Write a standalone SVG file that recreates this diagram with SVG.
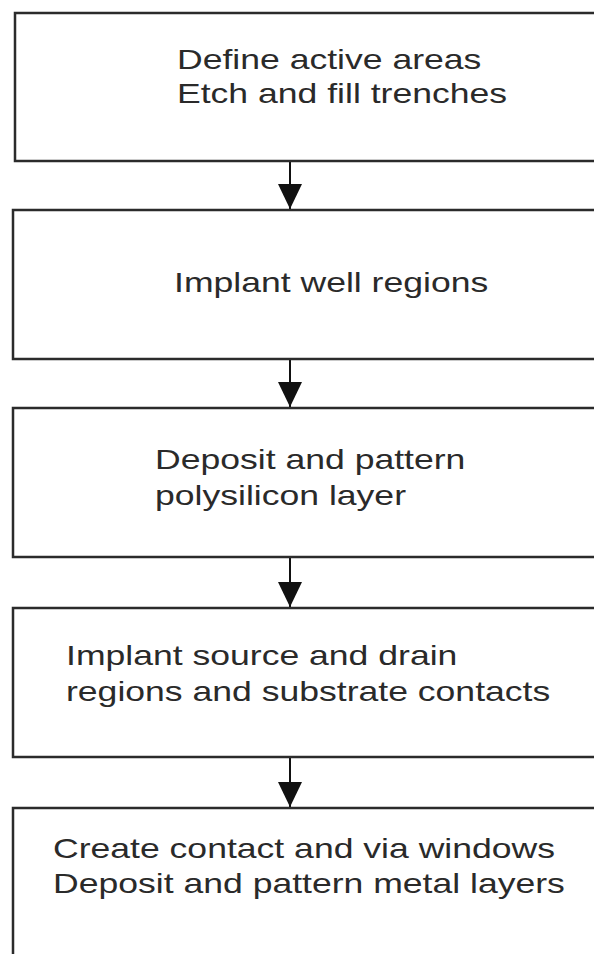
<svg xmlns="http://www.w3.org/2000/svg" width="594" height="954" viewBox="0 0 594 954">
<style>
.box{fill:#fff;stroke:#2b2b2b;stroke-width:2.5}
.lbl{font-family:"Liberation Sans",Arial,sans-serif;font-size:28px;fill:#2a2a2a}
.conn{stroke:#111;stroke-width:2}
</style>
<defs>
<marker id="ah" markerUnits="userSpaceOnUse" markerWidth="26" markerHeight="24" refX="25" refY="12" orient="auto">
<path d="M0,0 L25,12 L0,24 Z" fill="#111"/>
</marker>
</defs>
<rect width="594" height="954" fill="#fff"/>
<g id="connectors">
<line class="conn" x1="290" y1="162" x2="290" y2="209" marker-end="url(#ah)"/>
<line class="conn" x1="290" y1="360" x2="290" y2="407" marker-end="url(#ah)"/>
<line class="conn" x1="290" y1="558" x2="290" y2="607" marker-end="url(#ah)"/>
<line class="conn" x1="290" y1="758" x2="290" y2="807" marker-end="url(#ah)"/>
</g>
<g id="n1">
<rect class="box" x="15" y="13" width="600" height="148"/>
<text class="lbl" transform="translate(177,69) scale(1.27,1)">Define active areas</text>
<text class="lbl" transform="translate(177,103) scale(1.27,1)">Etch and fill trenches</text>
</g>
<g id="n2">
<rect class="box" x="13" y="210" width="600" height="149"/>
<text class="lbl" transform="translate(174,292) scale(1.27,1)">Implant well regions</text>
</g>
<g id="n3">
<rect class="box" x="13" y="408" width="600" height="149"/>
<text class="lbl" transform="translate(155,469) scale(1.27,1)">Deposit and pattern</text>
<text class="lbl" transform="translate(155,505) scale(1.27,1)">polysilicon layer</text>
</g>
<g id="n4">
<rect class="box" x="13" y="608" width="600" height="149"/>
<text class="lbl" transform="translate(66,665) scale(1.27,1)">Implant source and drain</text>
<text class="lbl" transform="translate(66,701) scale(1.27,1)">regions and substrate contacts</text>
</g>
<g id="n5">
<rect class="box" x="13" y="808" width="600" height="160"/>
<text class="lbl" transform="translate(53,858) scale(1.27,1)">Create contact and via windows</text>
<text class="lbl" transform="translate(53,893) scale(1.27,1)">Deposit and pattern metal layers</text>
</g>
</svg>
